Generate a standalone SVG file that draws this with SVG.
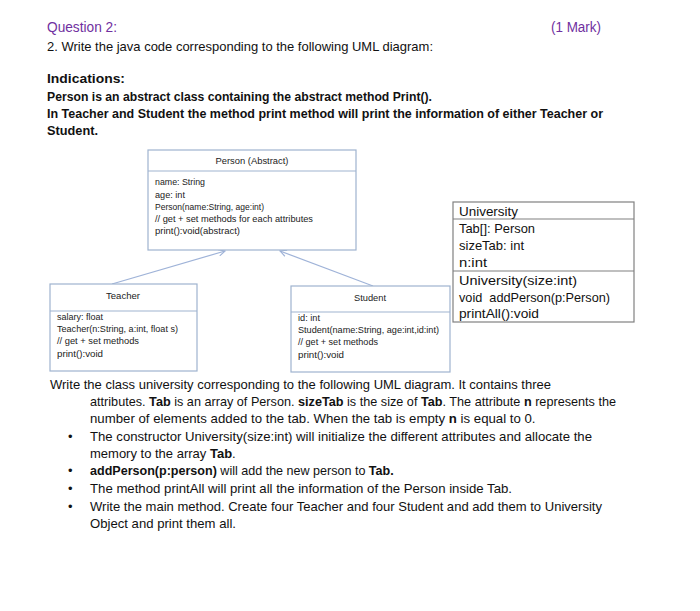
<svg xmlns="http://www.w3.org/2000/svg" width="700" height="611" viewBox="0 0 700 611">
<style>
text{font-family:"Liberation Sans",Arial,sans-serif;fill:#111}
.t{font-size:13px}
.b{font-weight:bold}
.q{fill:#7030a0;font-size:14px}
.s{font-size:9px;fill:#222}
.u{font-size:13px}
.box{fill:#fff;stroke:#9fb3cf;stroke-width:1.2}
.ubox{fill:#fff;stroke:#808080;stroke-width:1.2}
.conn{stroke:#9fb3d8;stroke-width:1.2;fill:none}
</style>
<defs>
<marker id="open" viewBox="0 0 10 10" refX="9" refY="5" markerWidth="8" markerHeight="8" orient="auto" markerUnits="userSpaceOnUse">
<path d="M1,1 L9,5 L1,9" fill="none" stroke="#9fb3d8" stroke-width="1.4"/>
</marker>
</defs>
<rect width="700" height="611" fill="#fff"/>
<g id="header">
<text class="q" x="47" y="32" textLength="70" lengthAdjust="spacingAndGlyphs">Question 2:</text>
<text class="q" x="551" y="32" textLength="50" lengthAdjust="spacingAndGlyphs">(1 Mark)</text>
<text class="t" x="47" y="51" textLength="386" lengthAdjust="spacingAndGlyphs">2. Write the java code corresponding to the following UML diagram:</text>
<text class="t b" x="47" y="83" textLength="78" lengthAdjust="spacingAndGlyphs">Indications:</text>
<text class="t b" x="47" y="101" textLength="385" lengthAdjust="spacingAndGlyphs">Person is an abstract class containing the abstract method Print().</text>
<text class="t b" x="47" y="118" textLength="556" lengthAdjust="spacingAndGlyphs">In Teacher and Student the method print method will print the information of either Teacher or</text>
<text class="t b" x="47" y="135" textLength="51" lengthAdjust="spacingAndGlyphs">Student.</text>
</g>
<g id="connectors">
<line class="conn" x1="112" y1="284" x2="225" y2="251" marker-end="url(#open)"/>
<line class="conn" x1="373" y1="286" x2="280" y2="251" marker-end="url(#open)"/>
</g>
<g id="person">
<rect class="box" x="148" y="150" width="208" height="100"/>
<line class="box" x1="148" y1="171" x2="356" y2="171"/>
<text class="s" x="252" y="164" text-anchor="middle" textLength="73" lengthAdjust="spacingAndGlyphs">Person (Abstract)</text>
<text class="s" x="155" y="185" textLength="50" lengthAdjust="spacingAndGlyphs">name: String</text>
<text class="s" x="155" y="198" textLength="30" lengthAdjust="spacingAndGlyphs">age: int</text>
<text class="s" x="155" y="210" textLength="109" lengthAdjust="spacingAndGlyphs">Person(name:String, age:int)</text>
<text class="s" x="155" y="222" textLength="158" lengthAdjust="spacingAndGlyphs">// get + set methods for each attributes</text>
<text class="s" x="155" y="234" textLength="85" lengthAdjust="spacingAndGlyphs">print():void(abstract)</text>
</g>
<g id="teacher">
<rect class="box" x="50" y="284" width="147" height="87"/>
<line class="box" x1="50" y1="311" x2="197" y2="311"/>
<text class="s" x="123" y="299" text-anchor="middle" textLength="34" lengthAdjust="spacingAndGlyphs">Teacher</text>
<text class="s" x="57" y="320" textLength="46" lengthAdjust="spacingAndGlyphs">salary: float</text>
<text class="s" x="57" y="332" textLength="121" lengthAdjust="spacingAndGlyphs">Teacher(n:String, a:int, float s)</text>
<text class="s" x="57" y="344" textLength="82" lengthAdjust="spacingAndGlyphs">// get + set methods</text>
<text class="s" x="57" y="357" textLength="46" lengthAdjust="spacingAndGlyphs">print():void</text>
</g>
<g id="student">
<rect class="box" x="291" y="286" width="159" height="86"/>
<line class="box" x1="291" y1="312" x2="450" y2="312"/>
<text class="s" x="370" y="301" text-anchor="middle" textLength="32" lengthAdjust="spacingAndGlyphs">Student</text>
<text class="s" x="298" y="321" textLength="22" lengthAdjust="spacingAndGlyphs">id: int</text>
<text class="s" x="298" y="333" textLength="141" lengthAdjust="spacingAndGlyphs">Student(name:String, age:int,id:int)</text>
<text class="s" x="298" y="345" textLength="80" lengthAdjust="spacingAndGlyphs">// get + set methods</text>
<text class="s" x="298" y="358" textLength="46" lengthAdjust="spacingAndGlyphs">print():void</text>
</g>
<g id="university">
<rect class="ubox" x="453" y="202" width="181" height="120"/>
<line class="ubox" x1="453" y1="219" x2="634" y2="219"/>
<line class="ubox" x1="453" y1="271" x2="634" y2="271"/>
<text class="u" x="459" y="216" textLength="59" lengthAdjust="spacingAndGlyphs">University</text>
<text class="u" x="459" y="233" textLength="76" lengthAdjust="spacingAndGlyphs">Tab[]: Person</text>
<text class="u" x="459" y="250" textLength="65" lengthAdjust="spacingAndGlyphs">sizeTab: int</text>
<text class="u" x="459" y="267" textLength="28" lengthAdjust="spacingAndGlyphs">n:int</text>
<text class="u" x="459" y="285" textLength="118" lengthAdjust="spacingAndGlyphs">University(size:int)</text>
<text class="u" x="459" y="302" textLength="151" lengthAdjust="spacingAndGlyphs" xml:space="preserve">void  addPerson(p:Person)</text>
<text class="u" x="459" y="318" textLength="80" lengthAdjust="spacingAndGlyphs">printAll():void</text>
</g>
<g id="instructions">
<text class="t" x="50" y="389" textLength="501" lengthAdjust="spacingAndGlyphs">Write the class university corresponding to the following UML diagram. It contains three</text>
<text class="t" transform="translate(90,406) scale(0.974,1)" x="0" y="0">attributes. <tspan class="b">Tab</tspan> is an array of Person. <tspan class="b">sizeTab</tspan> is the size of <tspan class="b">Tab</tspan>. The attribute <tspan class="b">n</tspan> represents the</text>
<text class="t" transform="translate(90,423) scale(1.018,1)" x="0" y="0">number of elements added to the tab. When the tab is empty <tspan class="b">n</tspan> is equal to 0.</text>
<text class="t" x="68" y="441">•</text>
<text class="t" x="90" y="441" textLength="502" lengthAdjust="spacingAndGlyphs">The constructor University(size:int) will initialize the different attributes and allocate the</text>
<text class="t" x="90" y="458">memory to the array <tspan class="b">Tab</tspan>.</text>
<text class="t" x="68" y="475">•</text>
<text class="t" transform="translate(90,475) scale(0.966,1)" x="0" y="0"><tspan class="b">addPerson(p:person)</tspan> will add the new person to <tspan class="b">Tab.</tspan></text>
<text class="t" x="68" y="493">•</text>
<text class="t" x="90" y="493" textLength="422" lengthAdjust="spacingAndGlyphs">The method printAll will print all the information of the Person inside Tab.</text>
<text class="t" x="68" y="511">•</text>
<text class="t" x="90" y="511" textLength="512" lengthAdjust="spacingAndGlyphs">Write the main method. Create four Teacher and four Student and add them to University</text>
<text class="t" x="90" y="528" textLength="146" lengthAdjust="spacingAndGlyphs">Object and print them all.</text>
</g>
</svg>
